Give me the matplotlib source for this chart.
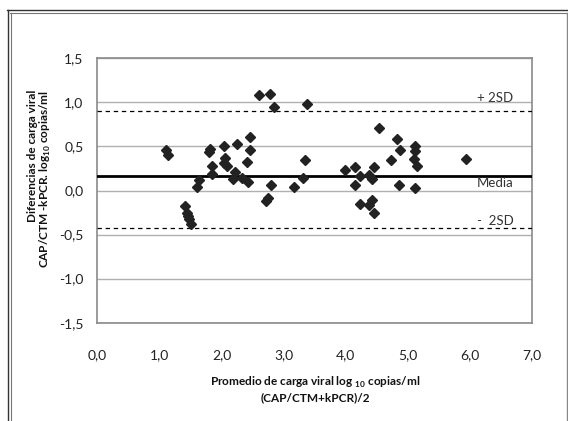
import matplotlib
matplotlib.use("Agg")
import matplotlib.pyplot as plt
from matplotlib.lines import Line2D
from matplotlib.ticker import FuncFormatter, MultipleLocator

plt.rcParams['font.family'] = ['Lato', 'DejaVu Sans']
plt.rcParams['mathtext.fontset'] = 'custom'
plt.rcParams['mathtext.rm'] = 'Lato'
plt.rcParams['mathtext.bf'] = 'Lato:bold'

# Data
promedio = [1.10, 1.13, 1.41, 1.44, 1.46, 1.48, 1.50, 1.60, 1.64, 1.80, 1.82, 1.85,
            1.85, 2.04, 2.05, 2.04, 2.09, 2.19, 2.22, 2.25, 2.33, 2.42, 2.41, 2.46,
            2.46, 2.61, 2.78, 2.84, 2.74, 2.72, 2.80, 3.16, 3.31, 3.34, 3.37, 3.99,
            4.15, 4.14, 4.22, 4.23, 4.37, 4.42, 4.37, 4.42, 4.46, 4.46, 4.54, 4.72,
            4.83, 4.87, 4.85, 5.12, 5.12, 5.09, 5.14, 5.12, 5.94]
diferencia = [0.46, 0.40, -0.18, -0.25, -0.29, -0.32, -0.375, 0.04, 0.12, 0.44, 0.47, 0.28,
              0.19, 0.50, 0.37, 0.31, 0.28, 0.125, 0.21, 0.53, 0.14, 0.095, 0.32, 0.46,
              0.61, 1.08, 1.09, 0.95, -0.08, -0.12, 0.06, 0.045, 0.14, 0.35, 0.985, 0.23,
              0.27, 0.06, 0.16, -0.15, 0.18, 0.125, -0.16, -0.11, -0.25, 0.27, 0.71, 0.35,
              0.58, 0.465, 0.057, 0.51, 0.45, 0.36, 0.28, 0.03, 0.36]
media = 0.163
sd_sup = 0.90
sd_inf = -0.43
linea_labels = ["+ 2SD", "Media", "-  2SD"]

W, H = 568, 421
fig = plt.figure(figsize=(W / 100, H / 100), dpi=100)
ax = fig.add_axes([97.3 / W, 1 - 322.7 / H, (532.3 - 97.3) / W, (322.7 - 58.3) / H])

ax.set_xlim(0, 7)
ax.set_ylim(-1.5, 1.5)
ax.xaxis.set_major_locator(MultipleLocator(1))
ax.yaxis.set_major_locator(MultipleLocator(0.5))
fmt = FuncFormatter(lambda v, p: f"{v:.1f}".replace(".", ",").replace("-0,0", "0,0"))
ax.xaxis.set_major_formatter(fmt)
ax.yaxis.set_major_formatter(fmt)
ax.tick_params(length=0, labelsize=10, colors='#222222')
ax.tick_params(axis='x', pad=19)
ax.tick_params(axis='y', pad=10)

ax.grid(axis='y', color='#b0b0b0', linewidth=1.0)
ax.set_axisbelow(True)
for s in ax.spines.values():
    s.set_color('#8a8a8a')
    s.set_linewidth(1.2)

ax.axhline(media, color='black', linewidth=2.0, zorder=3)
ax.axhline(sd_sup, color='black', linewidth=0.9, linestyle=(0, (3.5, 3)), zorder=3)
ax.axhline(sd_inf, color='black', linewidth=0.9, linestyle=(0, (3.5, 3)), zorder=3)

ax.plot(promedio, diferencia, linestyle='none', marker='D', markersize=5.2,
        color='#222222', zorder=4)

ax.text(6.11, 1.045, linea_labels[0], fontsize=9.5, color='#333333', va='center', ha='left')
ax.text(6.11, 0.09, linea_labels[1], fontsize=9.5, color='#333333', va='center', ha='left')
ax.text(6.11, -0.35, linea_labels[2], fontsize=9.5, color='#333333', va='center', ha='left')

# Axis titles
fig.text(315 / W, 1 - 382 / H, r"Promedio de carga viral log $_{\mathbf{10}}$ copias/ml",
         ha='center', va='center', fontsize=8.5, fontweight='bold', color='#111111')
fig.text(315 / W, 1 - 398 / H, "(CAP/CTM+kPCR)/2",
         ha='center', va='center', fontsize=8.5, fontweight='bold', color='#111111')
fig.text(33 / W, 1 - 90 / H, "Diferencias de carga viral", rotation=90,
         ha='center', va='top', fontsize=8.5, fontweight='bold', color='#111111')
fig.text(45 / W, 1 - 90 / H, r"CAP/CTM -kPCR. log$_{\mathbf{10}}$ copias/ml", rotation=90,
         ha='center', va='top', fontsize=8.5, fontweight='bold', color='#111111')

# Outer frame
def fl(x0, y0, x1, y1, c, lw):
    fig.add_artist(Line2D([x0 / W, x1 / W], [1 - y0 / H, 1 - y1 / H],
                          transform=fig.transFigure, color=c, linewidth=lw))

fl(7, 10, 568, 10, '#333333', 1.0)
fl(10, 13, 567, 13, '#777777', 0.8)
fl(7.5, 10, 7.5, 421, '#333333', 1.0)
fl(10.5, 13, 10.5, 421, '#777777', 0.8)
fl(566.5, 13, 566.5, 421, '#888888', 1.0)

fig.savefig("out.png", dpi=100)
